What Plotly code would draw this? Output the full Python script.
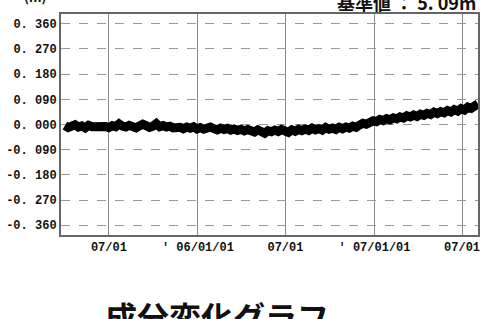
import pandas as pd
import plotly.graph_objects as go

# weekly observations starting 2005-04-01
start_date = "2005-04-01"
values = [
    -0.004, -0.011, -0.006, -0.001, -0.009, -0.005, -0.012, -0.003, -0.008, -0.006,
    -0.010, -0.002, -0.007, -0.011, -0.004, -0.008, 0.002, -0.006, -0.009, -0.003,
    -0.007, -0.012, -0.005, 0.001, -0.004, -0.010, -0.006, 0.003, -0.008, -0.004,
    -0.009, -0.006, -0.012, -0.007, -0.010, -0.015, -0.009, -0.013, -0.008, -0.016,
    -0.011, -0.017, -0.012, -0.009, -0.015, -0.019, -0.013, -0.018, -0.014, -0.020,
    -0.016, -0.021, -0.017, -0.023, -0.018, -0.022, -0.027, -0.019, -0.024, -0.031,
    -0.022, -0.026, -0.020, -0.025, -0.018, -0.023, -0.028, -0.019, -0.024, -0.017,
    -0.022, -0.016, -0.021, -0.013, -0.019, -0.015, -0.020, -0.011, -0.017, -0.013,
    -0.018, -0.010, -0.015, -0.009, -0.013, -0.006, -0.010, -0.002, 0.004, 0.001,
    0.009, 0.013, 0.010, 0.018, 0.014, 0.021, 0.017, 0.024, 0.020, 0.027,
    0.023, 0.031, 0.027, 0.034, 0.029, 0.037, 0.033, 0.040, 0.036, 0.044,
    0.039, 0.046, 0.042, 0.050, 0.045, 0.053, 0.048, 0.057, 0.052, 0.062,
    0.058, 0.068, 0.074,
]
dates = pd.date_range(start=start_date, periods=len(values), freq="7D")

y_tickvals = [0.36, 0.27, 0.18, 0.09, 0.0, -0.09, -0.18, -0.27, -0.36]
y_ticktext = ["0. 360", "0. 270", "0. 180", "0. 090", "0. 000",
              "-0. 090", "-0. 180", "-0. 270", "-0. 360"]
x_tickvals = ["2005-07-01", "2006-01-01", "2006-07-01", "2007-01-01", "2007-07-01"]
x_ticktext = ["07/01", "' 06/01/01", "07/01", "' 07/01/01", "07/01"]

title_text = "成分変化グラフ"
base_text = "基準値 ： 5. 09m"
unit_text = "(m)"

fig = go.Figure()
fig.add_trace(go.Scatter(
    x=dates, y=values, mode="lines",
    line=dict(color="black", width=9),
    showlegend=False,
))

tick_font = dict(family="Liberation Mono", size=12, color="#111", weight="bold")

fig.update_layout(
    width=482, height=319,
    margin=dict(l=61, r=4, t=14, b=84),
    paper_bgcolor="white", plot_bgcolor="white",
    xaxis=dict(
        range=["2005-03-24", "2007-08-03"],
        tickvals=x_tickvals, ticktext=x_ticktext,
        tickfont=tick_font, automargin=False,
        showgrid=True, gridcolor="#8a8a8a", gridwidth=1,
        showline=True, linecolor="#666", linewidth=2, mirror=True,
        ticks="", zeroline=False,
    ),
    yaxis=dict(
        range=[-0.395, 0.395],
        tickvals=y_tickvals, ticktext=y_ticktext,
        tickfont=tick_font, automargin=False,
        showgrid=True, gridcolor="#9a9a9a", gridwidth=1, griddash="dash",
        showline=True, linecolor="#666", linewidth=2, mirror=True,
        ticks="", zeroline=False,
    ),
    annotations=[
        dict(text=title_text, x=0.1007, y=-0.367, xref="paper", yref="paper",
             xanchor="left", yanchor="middle", showarrow=False,
             font=dict(family="Noto Sans CJK JP", size=32, color="#111", weight="bold")),
        dict(text=base_text, x=1.0, y=1.054, xref="paper", yref="paper",
             xanchor="right", yanchor="middle", showarrow=False,
             font=dict(family="Noto Sans CJK JP", size=18, color="#111", weight="bold")),
        dict(text=unit_text, x=-0.03, y=1.08, xref="paper", yref="paper",
             xanchor="right", yanchor="middle", showarrow=False,
             font=dict(family="Noto Sans CJK JP", size=13, color="#111", weight="bold")),
    ],
)

fig.write_html("out.html", config={"displayModeBar": False},
               post_script="document.body.style.margin='0';")
